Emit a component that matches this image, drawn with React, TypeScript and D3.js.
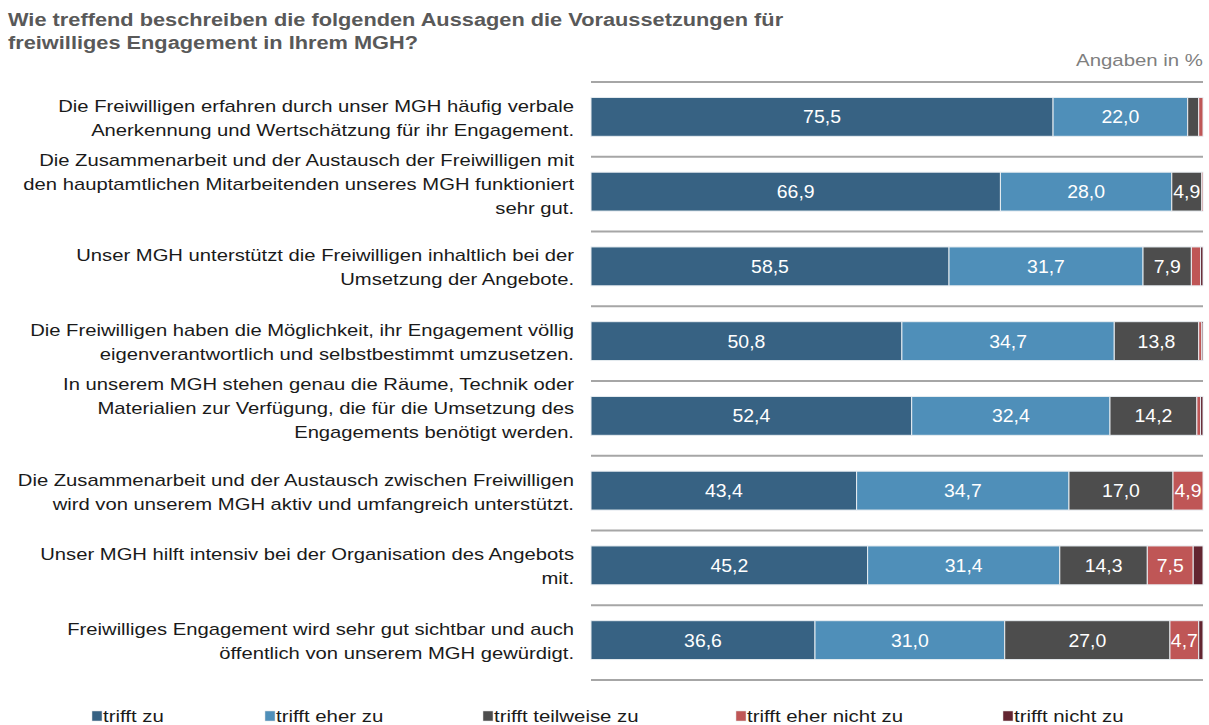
import React, { useEffect, useRef } from "react";
import * as d3 from "d3";

const title = [
  "Wie treffend beschreiben die folgenden Aussagen die Voraussetzungen für",
  "freiwilliges Engagement in Ihrem MGH?",
];

const statements = [
  ["Die Freiwilligen erfahren durch unser MGH häufig verbale", "Anerkennung und Wertschätzung für ihr Engagement."],
  ["Die Zusammenarbeit und der Austausch der Freiwilligen mit", "den hauptamtlichen Mitarbeitenden unseres MGH funktioniert", "sehr gut."],
  ["Unser MGH unterstützt die Freiwilligen inhaltlich bei der", "Umsetzung der Angebote."],
  ["Die Freiwilligen haben die Möglichkeit, ihr Engagement völlig", "eigenverantwortlich und selbstbestimmt umzusetzen."],
  ["In unserem MGH stehen genau die Räume, Technik oder", "Materialien zur Verfügung, die für die Umsetzung des", "Engagements benötigt werden."],
  ["Die Zusammenarbeit und der Austausch zwischen Freiwilligen", "wird von unserem MGH aktiv und umfangreich unterstützt."],
  ["Unser MGH hilft intensiv bei der Organisation des Angebots", "mit."],
  ["Freiwilliges Engagement wird sehr gut sichtbar und auch", "öffentlich von unserem MGH gewürdigt."],
];

const categories = ["trifft zu", "trifft eher zu", "trifft teilweise zu", "trifft eher nicht zu", "trifft nicht zu"];
const colors = ["#376283", "#4f8fb9", "#4d4d4d", "#bf5656", "#632531"];

const triffZu = [75.5, 66.9, 58.5, 50.8, 52.4, 43.4, 45.2, 36.6];
const eherZu = [22.0, 28.0, 31.7, 34.7, 32.4, 34.7, 31.4, 31.0];
const teilweise = [1.8, 4.9, 7.9, 13.8, 14.2, 17.0, 14.3, 27.0];
const eherNicht = [0.7, 0.2, 1.5, 0.5, 0.6, 4.9, 7.5, 4.7];
const nicht = [0.0, 0.0, 0.4, 0.2, 0.4, 0.0, 1.6, 0.7];

const legendX = [92, 265, 483, 736, 1003];

const fmt = (v: number) => v.toFixed(1).replace(".", ",");

export default function App() {
  const ref = useRef<SVGSVGElement>(null);

  useEffect(() => {
    const svg = d3.select(ref.current);
    svg.selectAll("*").remove();
    const font = "'Liberation Sans', Arial, sans-serif";

    // the original text is a little wider than Arial, so stretch it horizontally
    const addText = (parent: any, tx: number, ty: number, str: string, size: number, sx: number, anchor: string, fill: string, bold = false) =>
      parent.append("g").attr("transform", `translate(${tx},${ty}) scale(${sx},1)`)
        .append("text").attr("x", 0).attr("y", 0).attr("text-anchor", anchor)
        .style("font-family", font).style("font-size", `${size}px`).style("font-weight", bold ? "bold" : "normal")
        .attr("fill", fill).text(str);

    const rows = statements.map((s, i) => ({
      id: i,
      lines: s,
      values: [triffZu[i], eherZu[i], teilweise[i], eherNicht[i], nicht[i]],
    }));

    const x = d3.scaleLinear().domain([0, 100]).range([591, 1203]);
    const y = d3.scaleBand<number>().domain(rows.map((r) => r.id)).range([79.5, 677.5]).paddingInner(0.48).paddingOuter(0.24);
    const step = y.step();

    // title
    title.forEach((t, i) => addText(svg, 8, 26 + i * 23, t, 18, 1.21, "start", "#595959", true));
    addText(svg, 1203, 66, "Angaben in %", 17, 1.2, "end", "#7f7f7f");

    // separator lines
    const seps = d3.range(rows.length + 1).map((i) => 79.5 + 2.5 + i * step);
    svg.append("g").selectAll("line").data(seps).join("line")
      .attr("x1", x(0)).attr("x2", x(100)).attr("y1", (d) => d).attr("y2", (d) => d)
      .attr("stroke", "#a6a6a6").attr("stroke-width", 2);

    const stackData = rows.map((r) => {
      let acc = 0;
      return r.values.map((v, k) => {
        const s = { row: r.id, k, v, x0: acc, x1: acc + v };
        acc += v;
        return s;
      });
    });

    const bars = svg.append("g");
    stackData.forEach((segs) => {
      const g = bars.append("g");
      g.selectAll("rect").data(segs.filter((s) => s.v > 0)).join("rect")
        .attr("x", (d) => x(d.x0)).attr("y", (d) => y(d.row)!)
        .attr("width", (d) => x(d.x1) - x(d.x0)).attr("height", y.bandwidth())
        .attr("fill", (d) => colors[d.k]).attr("stroke", "#e9eef2").attr("stroke-width", 1);
      segs.filter((s) => s.v >= 4).forEach((d) => {
        addText(g, (x(d.x0) + x(d.x1)) / 2, y(d.row)! + y.bandwidth() / 2 + 6.5, fmt(d.v), 18, 1.08, "middle", "#ffffff");
      });
    });

    // statement labels
    const lh = 24;
    rows.forEach((r) => {
      const n = r.lines.length;
      const cy = y(r.id)! + y.bandwidth() / 2 + 1 - (n > 2 ? 8.5 : 0);
      r.lines.forEach((line, i) => {
        addText(svg, 574, cy - ((n - 1) * lh) / 2 + i * lh + 6, line, 17, 1.19, "end", "#1a1a1a");
      });
    });

    // legend
    categories.forEach((c, i) => {
      svg.append("rect").attr("x", legendX[i]).attr("y", 711).attr("width", 10).attr("height", 10)
        .attr("fill", colors[i]).attr("stroke", "#e0e0e0").attr("stroke-width", 0.5);
      addText(svg, legendX[i] + 11, 722, c, 17, 1.2, "start", "#1a1a1a");
    });
  }, []);

  return (
    <svg ref={ref} width={1209} height={725} style={{ position: "absolute", left: 0, top: 0, background: "#fff" }} />
  );
}
